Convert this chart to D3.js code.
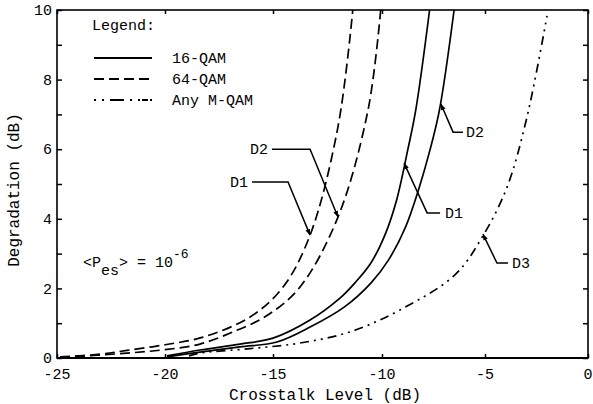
<!DOCTYPE html>
<html><head><meta charset="utf-8">
<script src="https://cdn.jsdelivr.net/npm/d3@7/dist/d3.min.js"></script>
<style>
html,body{margin:0;padding:0;background:#fff;}
svg{display:block;}
text{font-family:"Liberation Mono","DejaVu Sans Mono",monospace;fill:#000;}
</style></head>
<body>
<svg id="chart" width="593" height="404"></svg>
<script>
// ---- data ----
const xTicks = [-25, -20, -15, -10, -5, 0];
const yTicks = [0, 2, 4, 6, 8, 10];
const yMinorTicks = [0,1,2,3,4,5,6,7,8,9,10];

// 16-QAM, D1 (left solid) and D2 (right solid)
const qam16D1 = [[-19.91,0.06],[-18.38,0.23],[-16.53,0.40],[-15.0,0.57],[-13.30,1.09],[-11.93,1.72],[-11.24,2.16],[-10.51,2.73],[-9.82,3.59],[-9.29,4.54],[-8.75,5.98],[-8.36,7.13],[-7.69,10]];
const qam16D2 = [[-19.91,0.03],[-18.38,0.17],[-16.53,0.32],[-14.82,0.46],[-13.30,0.89],[-11.72,1.47],[-10.50,2.16],[-9.68,2.82],[-8.86,3.76],[-8.23,4.83],[-7.67,5.98],[-7.21,7.13],[-6.50,10]];
// 64-QAM, D1 (left dashed) and D2 (right dashed)
const qam64D1 = [[-24.86,0.03],[-23.0,0.11],[-21.76,0.22],[-20.0,0.38],[-18.24,0.60],[-16.06,1.18],[-14.54,2.04],[-13.30,3.53],[-12.02,6.64],[-11.34,10]];
const qam64D2 = [[-24.86,0.01],[-21.76,0.14],[-20.0,0.24],[-18.38,0.40],[-16.85,0.75],[-15.28,1.22],[-13.76,2.04],[-12.02,4.05],[-10.64,7.13],[-10.06,10]];
// Any M-QAM, D3 (dash-dot)
const anyD3 = [[-18.89,0.06],[-18.38,0.14],[-16.06,0.27],[-13.76,0.43],[-11.47,0.75],[-9.13,1.38],[-6.46,2.39],[-5.10,3.51],[-3.93,4.91],[-2.96,6.93],[-1.99,9.83]];

const legendLabels = ["16-QAM", "64-QAM", "Any M-QAM"];
// annotation: label, text anchor point, elbow, tip (data units)
const annotLabels = ["D2", "D1", "D1", "D2", "D3"];
const annotText  = [[-15.23,6.0],[-16.16,5.06],[-6.94,4.17],[-5.92,6.49],[-3.69,2.73]];
const annotStart = [[-15.05,6.0],[-15.97,5.06],[-7.18,4.17],[-6.07,6.49],[-3.88,2.73]];
const annotElbow = [[-13.30,6.0],[-14.31,5.06],[-7.81,4.17],[-6.55,6.49],[-4.42,2.73]];
const annotTip   = [[-12.02,4.05],[-13.30,3.53],[-8.93,5.60],[-7.14,7.30],[-5.10,3.56]];

// ---- layout ----
const svg = d3.select("#chart");
const L = 57, R = 588, T = 10, B = 358;
const x = d3.scaleLinear().domain(xTicks).range([L, 165, 273, 382, 485, R]);
const y = d3.scaleLinear().domain([0, 10]).range([B, T]);

svg.append("defs").append("marker")
  .attr("id","arr").attr("viewBox","0 0 10 10").attr("refX",10).attr("refY",5)
  .attr("markerWidth",8).attr("markerHeight",6).attr("markerUnits","userSpaceOnUse")
  .attr("orient","auto")
  .append("path").attr("d","M0,1 L10,5 L0,9 Z").attr("fill","#000");

// frame
svg.append("rect").attr("x",L).attr("y",T).attr("width",R-L).attr("height",B-T)
  .attr("fill","none").attr("stroke","#000").attr("stroke-width",1.6);

// axes with inward ticks
const gL = svg.append("g").attr("transform",`translate(${L},0)`)
  .call(d3.axisRight(y).tickValues(yMinorTicks).tickSize(5).tickFormat(""));
const gR = svg.append("g").attr("transform",`translate(${R},0)`)
  .call(d3.axisLeft(y).tickValues(yMinorTicks).tickSize(5).tickFormat(""));
const gB = svg.append("g").attr("transform",`translate(0,${B})`)
  .call(d3.axisTop(x).tickValues(xTicks).tickSize(4).tickFormat(""));
const gT = svg.append("g").attr("transform",`translate(0,${T})`)
  .call(d3.axisBottom(x).tickValues(xTicks).tickSize(4).tickFormat(""));
[gL,gR,gB,gT].forEach(g=>{ g.select(".domain").remove(); g.selectAll("line").attr("stroke","#000").attr("stroke-width",1.5); });
svg.append("line").attr("x1",L).attr("x2",R).attr("y1",B).attr("y2",B).attr("stroke","#000").attr("stroke-width",2);

// tick labels
svg.append("g").selectAll("text").data(yTicks).join("text")
  .attr("x", L-5).attr("y", d=>y(d)).attr("dy","0.35em")
  .attr("text-anchor","end").attr("font-size",15).text(d=>d);
svg.append("g").selectAll("text").data(xTicks).join("text")
  .attr("x", d=>x(d)).attr("y", B+21)
  .attr("text-anchor","middle").attr("font-size",15).text(d=>d);

// axis titles
svg.append("text").attr("x",325).attr("y",400).attr("text-anchor","middle")
  .attr("font-size",16).text("Crosstalk Level (dB)");
svg.append("text").attr("transform","translate(19,190) rotate(-90)").attr("text-anchor","middle")
  .attr("font-size",16).text("Degradation (dB)");

// curves
const line = d3.line().x(d=>x(d[0])).y(d=>y(d[1])).curve(d3.curveCatmullRom.alpha(0.5));
const styles = {solid:null, dashed:"10,5", dashdot:"9,5,2,5,2,5"};
const curves = [
  {d:qam16D1, s:"solid"},{d:qam16D2, s:"solid"},
  {d:qam64D1, s:"dashed"},{d:qam64D2, s:"dashed"},
  {d:anyD3, s:"dashdot"}
];
svg.append("g").selectAll("path").data(curves).join("path")
  .attr("d", c=>line(c.d)).attr("fill","none").attr("stroke","#000")
  .attr("stroke-width",1.7).attr("stroke-dasharray", c=>styles[c.s]);

// legend
svg.append("text").attr("x",92).attr("y",30).attr("font-size",15).text("Legend:");
const legStyles = ["solid","dashed","dashdot"];
const lg = svg.append("g").selectAll("g").data(legendLabels).join("g")
  .attr("transform",(d,i)=>`translate(0,${58 + i*21})`);
lg.append("line").attr("x1",94).attr("x2",152).attr("y1",0).attr("y2",0)
  .attr("stroke","#000").attr("stroke-width",1.8)
  .attr("stroke-dasharray",(d,i)=>i===2 ? "2,6,2,6,14,6,2,6,2" : styles[legStyles[i]]);
lg.append("text").attr("x",172).attr("y",0).attr("dy","0.35em").attr("font-size",15).text(d=>d);

// annotations
const ag = svg.append("g");
annotLabels.forEach((lab,i)=>{
  const p0 = annotStart[i], p1 = annotElbow[i], p2 = annotTip[i];
  ag.append("path")
    .attr("d",`M${x(p0[0])},${y(p0[1])}L${x(p1[0])},${y(p1[1])}L${x(p2[0])},${y(p2[1])}`)
    .attr("fill","none").attr("stroke","#000").attr("stroke-width",1.5)
    .attr("marker-end","url(#arr)");
  const right = annotText[i][0] < annotStart[i][0];
  ag.append("text").attr("x",x(annotText[i][0])).attr("y",y(annotText[i][1])).attr("dy","0.35em")
    .attr("text-anchor", right ? "end" : "start").attr("font-size",15).text(lab);
});

// <Pes> = 10^-6
const pt = svg.append("text").attr("x",83).attr("y",267).attr("font-size",15);
pt.append("tspan").text("<P");
pt.append("tspan").attr("dy",8).text("es");
pt.append("tspan").attr("dy",-8).text("> = 10");
pt.append("tspan").attr("dy",-9).attr("font-size",13).text("-6");
</script>
</body></html>
